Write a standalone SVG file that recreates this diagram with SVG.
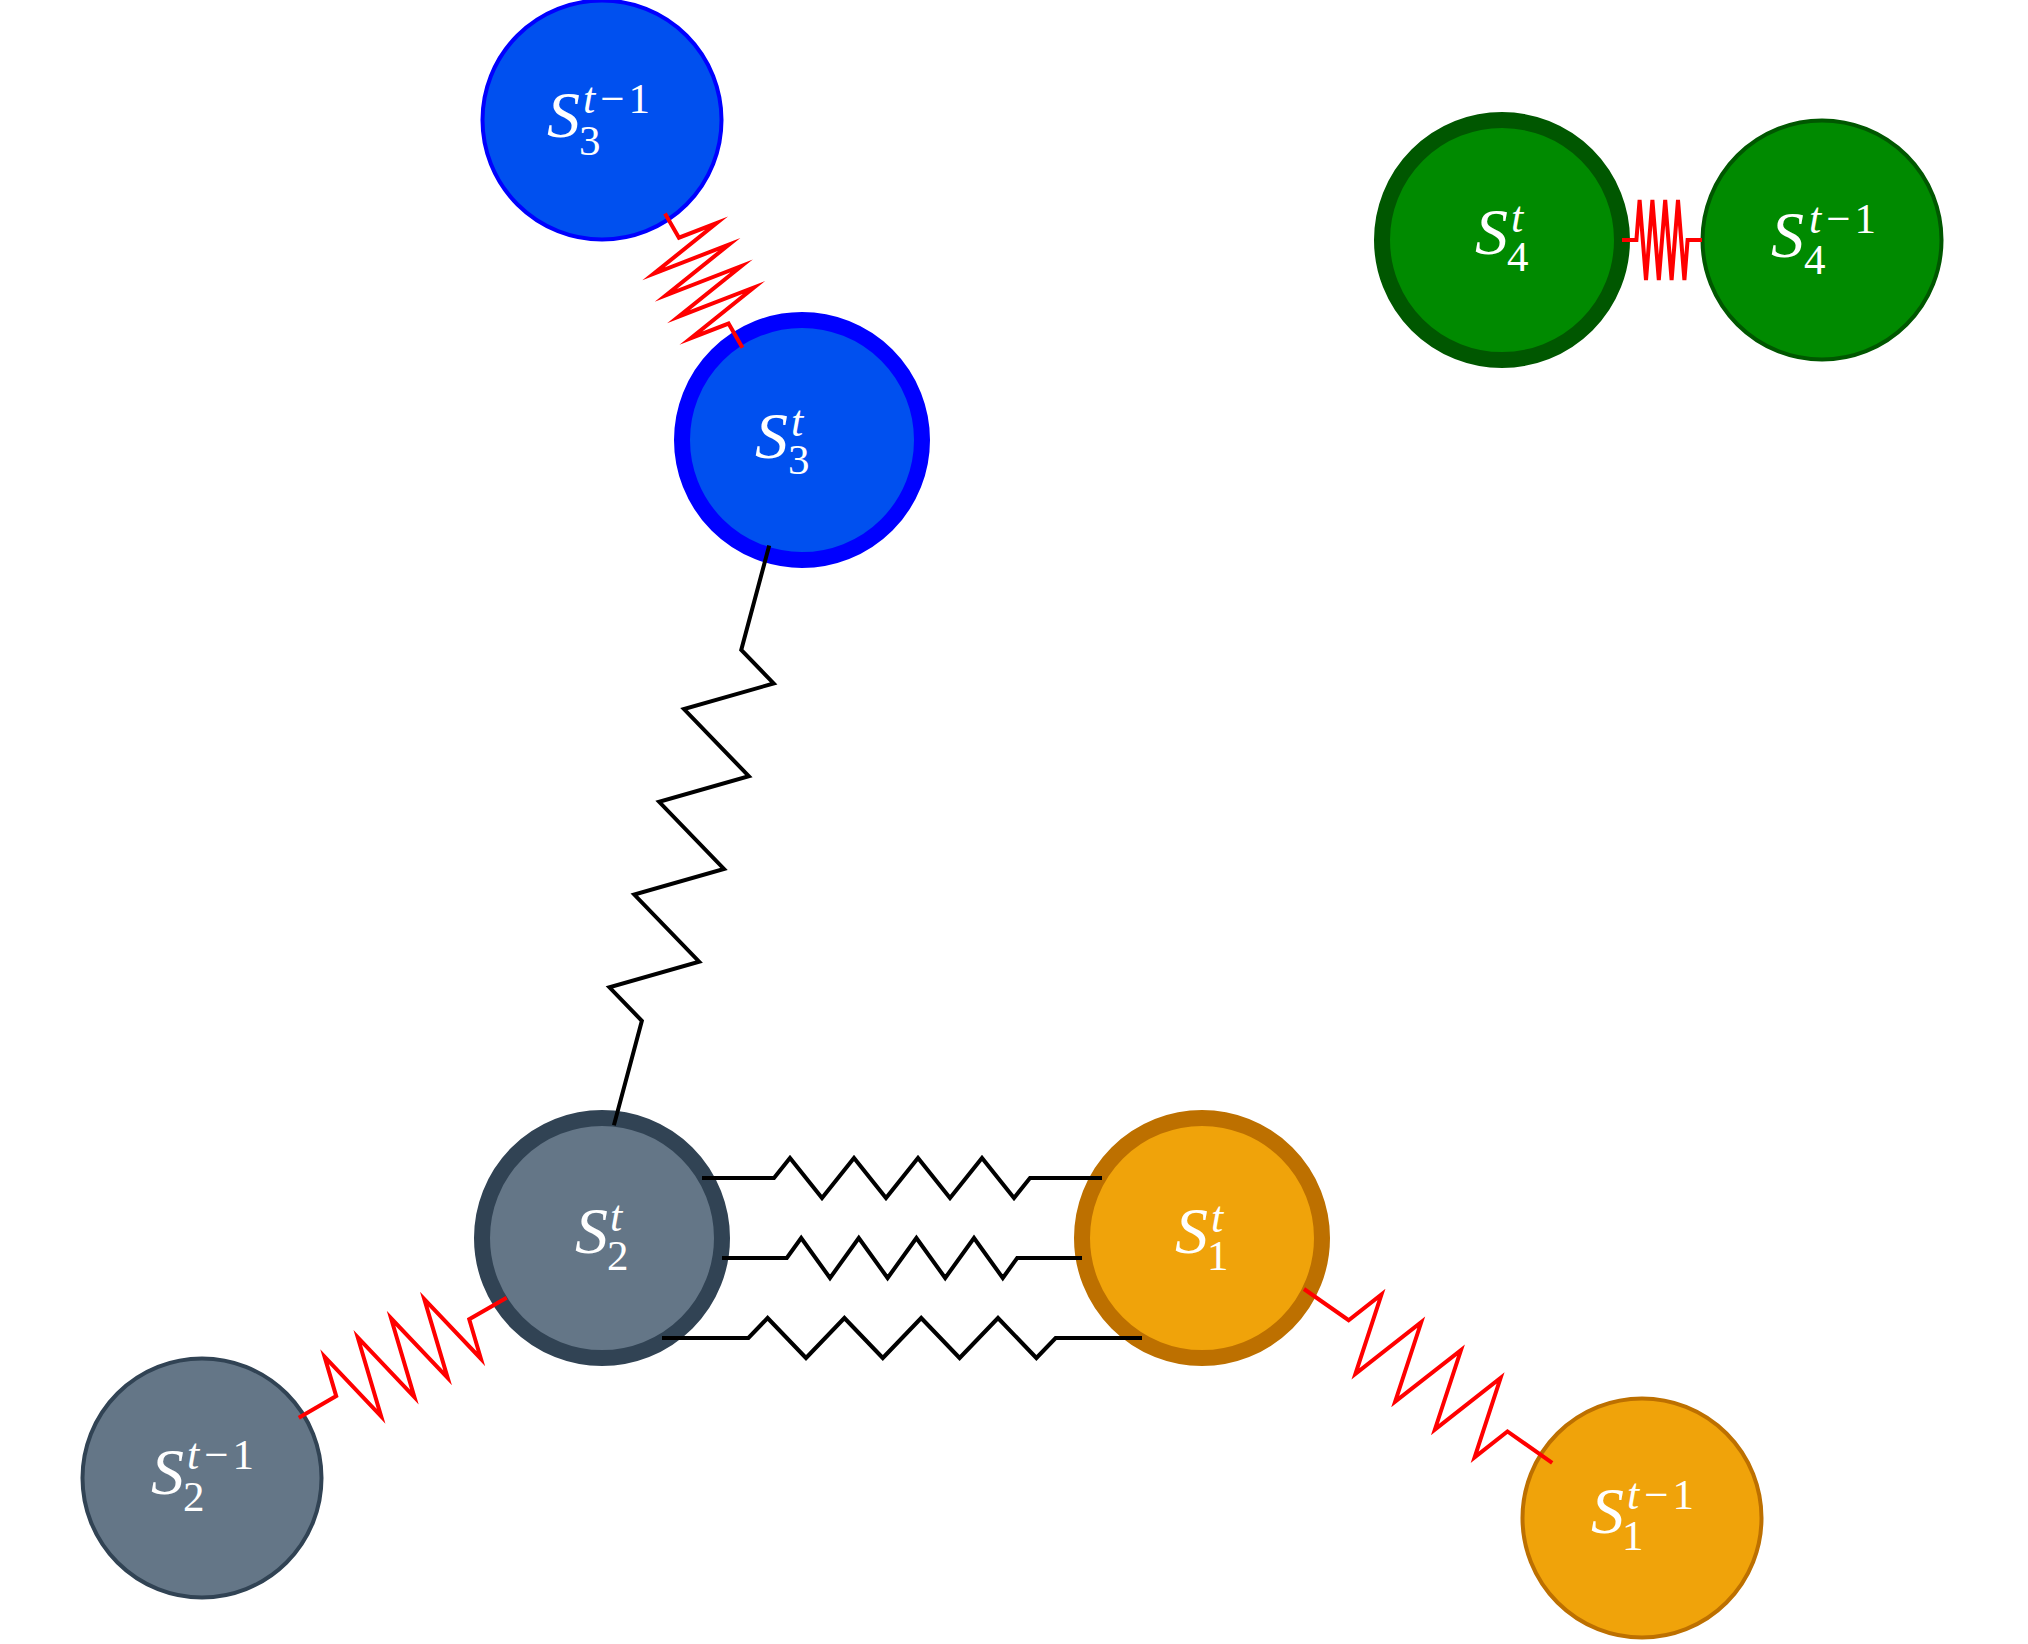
<svg xmlns="http://www.w3.org/2000/svg" width="2028" height="1644" viewBox="0 0 2028 1644">
<style>
.bg{fill:#fff}
.thin{stroke-width:4}
.thick{stroke-width:16}
.blue{fill:#0050ef;stroke:#0000ff}
.green{fill:#008a00;stroke:#005700}
.gray{fill:#647687;stroke:#314354}
.orange{fill:#f0a30a;stroke:#bd7000}
.lab{fill:#fff;font-family:"Liberation Serif","Times New Roman",serif}
.S{font-size:66px;font-style:italic}
.t{font-size:44px;font-style:italic}
.n{font-size:43px}
.sp{letter-spacing:4px}
.spring{fill:none;stroke-width:4;stroke-miterlimit:10;stroke-linecap:butt;stroke-linejoin:miter}
.blk{stroke:#000}
.red{stroke:#ff0000}
</style>
<rect class="bg" width="2028" height="1644"/>
<g id="S3-prev"><circle class="blue thin" cx="602" cy="120" r="119.5"/>
<text class="lab"><tspan class="S" x="547" y="137">S</tspan><tspan class="t" x="583" y="112.5">t</tspan><tspan class="n sp" dx="5">−1</tspan><tspan class="n" x="579" y="155">3</tspan></text></g>
<g id="S3"><circle class="blue thick" cx="802" cy="440" r="120"/>
<text class="lab"><tspan class="S" x="755" y="458">S</tspan><tspan class="t" x="791" y="436">t</tspan><tspan class="n" x="788" y="474">3</tspan></text></g>
<g id="S4"><circle class="green thick" cx="1502" cy="240" r="120"/>
<text class="lab"><tspan class="S" x="1475" y="254">S</tspan><tspan class="t" x="1511" y="232">t</tspan><tspan class="n" x="1507" y="271">4</tspan></text></g>
<g id="S4-prev"><circle class="green thin" cx="1822" cy="240" r="119.5"/>
<text class="lab"><tspan class="S" x="1771" y="256.5">S</tspan><tspan class="t" x="1809" y="232.5">t</tspan><tspan class="n sp" dx="5">−1</tspan><tspan class="n" x="1804" y="274">4</tspan></text></g>
<g id="S2"><circle class="gray thick" cx="602" cy="1238" r="120"/>
<text class="lab"><tspan class="S" x="575" y="1253">S</tspan><tspan class="t" x="610" y="1231">t</tspan><tspan class="n" x="607" y="1270">2</tspan></text></g>
<g id="S2-prev"><circle class="gray thin" cx="202" cy="1478" r="119.5"/>
<text class="lab"><tspan class="S" x="151" y="1493.5">S</tspan><tspan class="t" x="187" y="1469">t</tspan><tspan class="n sp" dx="5">−1</tspan><tspan class="n" x="183" y="1511">2</tspan></text></g>
<g id="S1"><circle class="orange thick" cx="1202" cy="1238" r="120"/>
<text class="lab"><tspan class="S" x="1175" y="1253">S</tspan><tspan class="t" x="1211" y="1232">t</tspan><tspan class="n" x="1207" y="1269.5">1</tspan></text></g>
<g id="S1-prev"><circle class="orange thin" cx="1642" cy="1518" r="119.5"/>
<text class="lab"><tspan class="S" x="1591" y="1533">S</tspan><tspan class="t" x="1627" y="1508.5">t</tspan><tspan class="n sp" dx="5">−1</tspan><tspan class="n" x="1622" y="1549.5">1</tspan></text></g>
<g id="connectors">
<polyline class="spring blk" transform="translate(702,1178)" points="0,0 72,0 88,-20 120,20 152,-20 184,20 216,-20 248,20 280,-20 312,20 328,0 400,0"/>
<polyline class="spring blk" transform="translate(722,1258)" points="0,0 64.8,0 79.2,-20 108,20 136.8,-20 165.6,20 194.4,-20 223.2,20 252,-20 280.8,20 295.2,0 360,0"/>
<polyline class="spring blk" transform="translate(662,1338)" points="0,0 86.4,0 105.6,-20 144,20 182.4,-20 220.8,20 259.2,-20 297.6,20 336,-20 374.4,20 393.6,0 480,0"/>
<polyline class="spring blk" transform="translate(769.2,545.6) rotate(105)" points="0,0 108,0 132,-40 180,40 228,-40 276,40 324,-40 372,40 420,-40 468,40 492,0 600,0"/>
<polyline class="spring red" transform="translate(1622,240)" points="0,0 14.4,0 17.6,-40 24,40 30.4,-40 36.8,40 43.2,-40 49.6,40 56,-40 62.4,40 65.6,0 80,0"/>
<polyline class="spring red" transform="translate(665,213.5) rotate(60)" points="0,0 27.9,0 34.1,-40 46.5,40 58.9,-40 71.3,40 83.7,-40 96.1,40 108.5,-40 120.9,40 127.1,0 155,0"/>
<polyline class="spring red" transform="translate(298.8,1417.7) rotate(-30)" points="0,0 43.2,0 52.8,-40 72,40 91.2,-40 110.4,40 129.6,-40 148.8,40 168,-40 187.2,40 196.8,0 240,0"/>
<polyline class="spring red" transform="translate(1304,1289) rotate(35)" points="0,0 54.5,0 66.6,-40 90.8,40 115.1,-40 139.3,40 163.6,-40 187.8,40 212,-40 236.3,40 248.4,0 303,0"/>
</g>
</svg>
